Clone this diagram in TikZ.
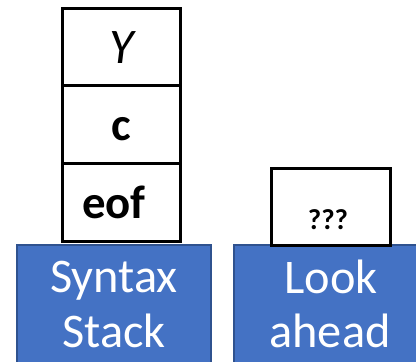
\documentclass[tikz,border=0pt]{standalone}
\usepackage{fontspec}
\setmainfont{Carlito}
\begin{document}
\begin{tikzpicture}[x=1bp,y=-1bp,
  cell/.style={draw=black,line width=3bp,fill=white},
  panel/.style={draw=panelEdge,line width=2bp,fill=panelBlue},
  word/.style={anchor=base,inner sep=0pt,font=\fontsize{44}{44}\selectfont},
  label/.style={anchor=base,inner sep=0pt,text=white,font=\fontsize{48.5}{48}\selectfont}]
\definecolor{panelBlue}{HTML}{4472C4}
\definecolor{panelEdge}{HTML}{2F528F}
\useasboundingbox (0,0) rectangle (416,362);
\begin{scope}
\clip (0,0) rectangle (416,362);
% label panels
\path[panel] (17,245) rectangle (211,372);
\path[panel] (234,245) rectangle (430,372);
\node[label] (syn) at (114,292) {Syntax};
\node[label] (stk) at (114,347) {Stack};
\node[label] (look) at (331,293) {Look};
\node[label] (ahd) at (330,347) {ahead};
% syntax stack cells
\path[cell] (62,8) rectangle (180,85);
\path[cell] (62,85) rectangle (180,163);
\path[cell] (62,163) rectangle (180,241);
\node[word,font=\fontsize{50}{50}\selectfont\itshape] (y) at (122,63) {Y};
\node[word,font=\fontsize{47}{47}\selectfont\bfseries] (c) at (121,140) {c};
\node[word,font=\fontsize{47}{47}\selectfont\bfseries] (eof) at (114,218) {eof};
% lookahead cell
\path[cell] (271,168) rectangle (390,245);
\node[word,font=\fontsize{29}{29}\selectfont\bfseries] (q) at (328,229) {???};
\end{scope}
\end{tikzpicture}
\end{document}
